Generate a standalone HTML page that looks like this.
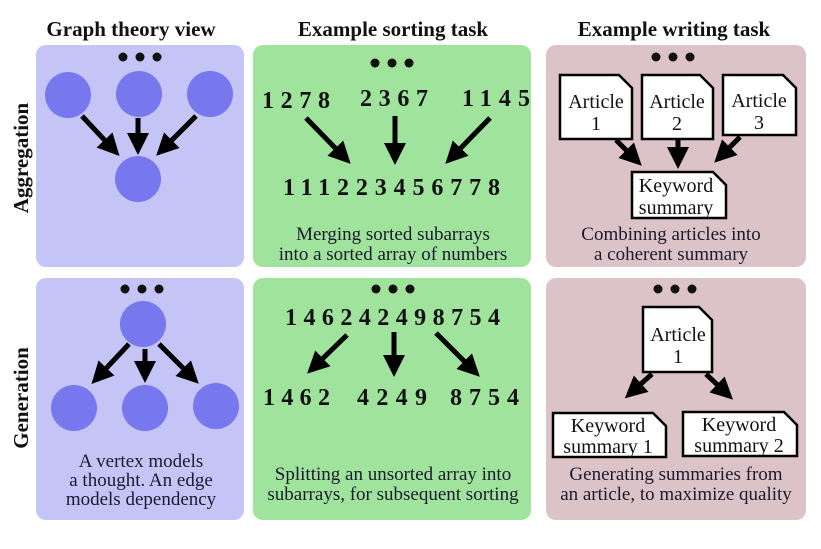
<!DOCTYPE html>
<html><head><meta charset="utf-8"><style>
body{margin:0;background:#fff}
svg{display:block}
text{font-family:"Liberation Serif",serif;fill:#111}
.h{font-size:21px;font-weight:bold}
.n{font-size:24px;font-weight:bold}
.c{font-size:19px;fill:#1a1a2e}
.d{font-size:20px}
</style></head><body>
<svg width="821" height="549" viewBox="0 0 821 549" xmlns="http://www.w3.org/2000/svg">
<defs>
<marker id="a" markerWidth="4.4" markerHeight="4.4" refX="2.2" refY="2.2" orient="auto" markerUnits="strokeWidth">
<path d="M0,0 L4.4,2.2 L0,4.4 Z" fill="#000"/></marker>
</defs>
<g text-anchor="middle">
<text class="h" x="131" y="36">Graph theory view</text>
<text class="h" x="393" y="36">Example sorting task</text>
<text class="h" x="674" y="36">Example writing task</text>
<text class="h" transform="translate(28,158) rotate(-90)">Aggregation</text>
<text class="h" transform="translate(28,398) rotate(-90)">Generation</text>
</g>
<rect x="36" y="45" width="208" height="222" rx="10" fill="#c4c4f7"/>
<rect x="36" y="278" width="208" height="242" rx="10" fill="#c4c4f7"/>
<rect x="253" y="45" width="278" height="222" rx="10" fill="#9fe39c"/>
<rect x="253" y="278" width="278" height="242" rx="10" fill="#9fe39c"/>
<rect x="546" y="45" width="260" height="222" rx="10" fill="#dcc3c7"/>
<rect x="546" y="278" width="260" height="242" rx="10" fill="#dcc3c7"/>
<g fill="#111">
<circle cx="123" cy="57" r="4.5"/><circle cx="140" cy="57" r="4.5"/><circle cx="157" cy="57" r="4.5"/>
<circle cx="125" cy="289" r="4.5"/><circle cx="142" cy="289" r="4.5"/><circle cx="159" cy="289" r="4.5"/>
<circle cx="375" cy="63" r="4.5"/><circle cx="392" cy="63" r="4.5"/><circle cx="409" cy="63" r="4.5"/>
<circle cx="376" cy="289" r="4.5"/><circle cx="393" cy="289" r="4.5"/><circle cx="410" cy="289" r="4.5"/>
<circle cx="656" cy="57" r="4.5"/><circle cx="673" cy="57" r="4.5"/><circle cx="690" cy="57" r="4.5"/>
<circle cx="658" cy="289" r="4.5"/><circle cx="675" cy="289" r="4.5"/><circle cx="692" cy="289" r="4.5"/>
</g>
<g fill="#7777ee">
<circle cx="68" cy="95" r="23"/><circle cx="139" cy="94" r="23"/><circle cx="210" cy="94" r="23"/><circle cx="138" cy="179" r="23"/>
<circle cx="143" cy="324" r="23"/><circle cx="74" cy="408" r="23"/><circle cx="145" cy="408" r="23"/><circle cx="216" cy="406" r="23"/>
</g>
<g stroke="#000" stroke-width="5" marker-end="url(#a)" fill="none">
<line x1="82" y1="116" x2="112" y2="148"/>
<line x1="138" y1="118" x2="138" y2="144"/>
<line x1="196" y1="116" x2="164" y2="148"/>
<line x1="129" y1="344" x2="99" y2="376"/>
<line x1="145" y1="349" x2="145" y2="372"/>
<line x1="159" y1="344" x2="191" y2="376"/>
<line x1="306" y1="118" x2="343" y2="156"/>
<line x1="395" y1="116" x2="395" y2="154"/>
<line x1="490" y1="118" x2="453" y2="156"/>
<line x1="347" y1="335" x2="315" y2="366"/>
<line x1="394" y1="332" x2="394" y2="366"/>
<line x1="436" y1="333" x2="472" y2="369"/>
<line x1="616" y1="140" x2="634" y2="158"/>
<line x1="678" y1="140" x2="678" y2="158"/>
<line x1="740" y1="137" x2="722" y2="155"/>
<line x1="652" y1="374" x2="633" y2="391"/>
<line x1="706" y1="374" x2="725" y2="392"/>
</g>
<text class="n" x="262" y="108" textLength="68" lengthAdjust="spacing">1278</text>
<text class="n" x="360" y="106" textLength="68" lengthAdjust="spacing">2367</text>
<text class="n" x="462" y="106" textLength="68" lengthAdjust="spacing">1145</text>
<text class="n" x="283" y="195" textLength="217" lengthAdjust="spacing">111223456778</text>
<text class="n" x="285" y="325" textLength="215" lengthAdjust="spacing">146242498754</text>
<text class="n" x="263" y="405" textLength="67" lengthAdjust="spacing">1462</text>
<text class="n" x="357" y="405" textLength="70" lengthAdjust="spacing">4249</text>
<text class="n" x="450" y="405" textLength="69" lengthAdjust="spacing">8754</text>
<g fill="#fff" stroke="#000" stroke-width="2.5">
<path d="M560,75 H619 L632,88 V139 H560 Z"/>
<path d="M642,75 H700 L713,88 V139 H642 Z"/>
<path d="M723,75 H783 L796,88 V135 H723 Z"/>
<path d="M632,172 H713 L726,185 V218 H632 Z"/>
<path d="M643,307 H699 L712,320 V372 H643 Z"/>
<path d="M553,413 H653 L666,426 V457 H553 Z"/>
<path d="M683,412 H784 L797,425 V456 H683 Z"/>
</g>
<g text-anchor="middle">
<text class="d" x="596" y="108">Article</text><text class="d" x="596" y="130">1</text>
<text class="d" x="677" y="108">Article</text><text class="d" x="677" y="130">2</text>
<text class="d" x="759" y="107">Article</text><text class="d" x="759" y="129">3</text>
<text class="d" x="676" y="192">Keyword</text><text class="d" x="676" y="214">summary</text>
<text class="d" x="678" y="341">Article</text><text class="d" x="678" y="363">1</text>
<text class="d" x="608" y="432">Keyword</text><text class="d" x="608" y="453">summary 1</text>
<text class="d" x="739" y="431">Keyword</text><text class="d" x="739" y="452">summary 2</text>
<text class="c" x="393" y="240">Merging sorted subarrays</text>
<text class="c" x="393" y="260">into a sorted array of numbers</text>
<text class="c" x="393" y="480">Splitting an unsorted array into</text>
<text class="c" x="393" y="500">subarrays, for subsequent sorting</text>
<text class="c" x="671" y="240">Combining articles into</text>
<text class="c" x="671" y="260">a coherent summary</text>
<text class="c" x="676" y="480">Generating summaries from</text>
<text class="c" x="676" y="500">an article, to maximize quality</text>
<text class="c" x="141" y="467">A vertex models</text>
<text class="c" x="141" y="486">a thought. An edge</text>
<text class="c" x="141" y="505">models dependency</text>
</g>
</svg>
</body></html>
